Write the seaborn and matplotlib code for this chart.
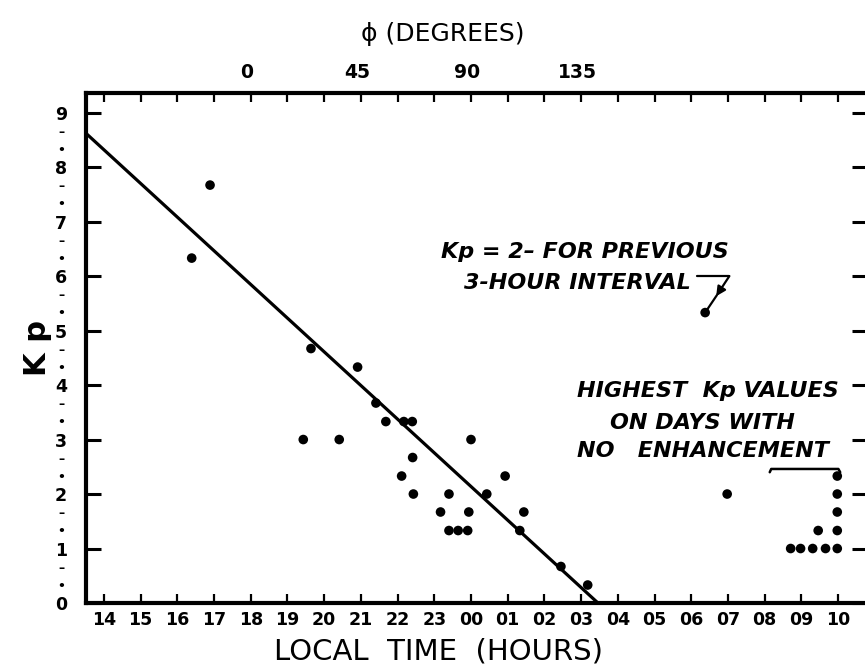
import matplotlib
matplotlib.use("Agg")
import matplotlib.pyplot as plt
import seaborn as sns
import pandas as pd

# ---------------- data (local time in hours, 24+ = after midnight) ----------------
storm_hours = [16.39, 16.89, 19.43, 19.64, 20.41, 20.91, 21.41, 21.68, 22.11, 22.17,
               22.40, 22.41, 22.43, 23.17, 23.40, 23.40, 23.65, 23.91, 23.94, 24.00,
               24.43, 24.93, 25.33, 25.44, 26.45, 27.18, 30.98]
storm_kp = [6.33, 7.67, 3.00, 4.67, 3.00, 4.33, 3.67, 3.33, 2.33, 3.33,
            3.33, 2.67, 2.00, 1.67, 2.00, 1.33, 1.33, 1.33, 1.67, 3.00,
            2.00, 2.33, 1.33, 1.67, 0.67, 0.33, 2.00]
prev_hours = [30.38]
prev_kp = [5.33]
quiet_hours = [32.71, 32.98, 33.31, 33.66, 33.98, 33.46, 33.98, 33.98, 33.98, 33.98]
quiet_kp = [1.00, 1.00, 1.00, 1.00, 1.00, 1.33, 1.33, 1.67, 2.00, 2.33]
fit_hours = [13.51, 27.46]
fit_kp = [8.62, 0.00]

hour_ticks = list(range(14, 35))
hour_labels = ["14", "15", "16", "17", "18", "19", "20", "21", "22", "23",
               "00", "01", "02", "03", "04", "05", "06", "07", "08", "09", "10"]
phi_ticks = [0, 45, 90, 135]
phi_labels = ["0", "45", "90", "135"]
kp_ticks = list(range(0, 10))
kp_labels = [str(k) for k in kp_ticks]
kp_minor = [k + f for k in range(0, 9) for f in (1 / 3, 2 / 3)]
kp_minor_labels = [lab for k in range(0, 9) for lab in ("•", "–")]

# ---------------- figure ----------------
sns.set_theme(style="ticks")
plt.rcParams['font.family'] = ['DejaVu Sans']
for key in ("text.color", "axes.labelcolor", "xtick.color", "ytick.color"):
    plt.rcParams[key] = "black"

W, H = 865, 668
fig = plt.figure(figsize=(W / 100, H / 100), dpi=100)
fig.patch.set_facecolor("white")
ax = fig.add_axes([86 / W, (H - 603) / H, (867 - 86) / W, (603 - 93) / H])
ax.set_facecolor("white")

pts = pd.DataFrame({"hour": storm_hours + prev_hours + quiet_hours,
                    "kp": storm_kp + prev_kp + quiet_kp})
fit = pd.DataFrame({"hour": fit_hours, "kp": fit_kp})

sns.lineplot(data=fit, x="hour", y="kp", ax=ax, color="black", lw=2.3, sort=False)
sns.scatterplot(data=pts, x="hour", y="kp", ax=ax, color="black", s=48,
                edgecolor="none", zorder=5)

ax.set_xlim(13.51, 34.79)
ax.set_ylim(0, 9.36)

for sp in ax.spines.values():
    sp.set_linewidth(3)
    sp.set_color("black")

ax.set_xticks(hour_ticks, hour_labels)
ax.tick_params(axis="x", which="major", direction="in", length=6.5, width=1.6,
               top=True, bottom=True, labelsize=12.5, pad=6)
for lbl in ax.get_xticklabels():
    lbl.set_fontweight("bold")

ax.set_yticks(kp_ticks, kp_labels)
ax.set_yticks(kp_minor, kp_minor_labels, minor=True)
ax.tick_params(axis="y", which="major", direction="in", length=11, width=2.2,
               left=True, right=True, labelsize=12.5, pad=18)
ax.tick_params(axis="y", which="minor", length=0, labelsize=9, pad=18)
for lbl in ax.get_yticklabels() + ax.get_yticklabels(minor=True):
    lbl.set_fontweight("bold")
    lbl.set_horizontalalignment("center")

secax = ax.secondary_xaxis("top", functions=(lambda h: (h - 17.89) * 15,
                                             lambda p: p / 15 + 17.89))
secax.set_xticks(phi_ticks, phi_labels)
secax.tick_params(length=0, pad=8, labelsize=13.5)
for lbl in secax.get_xticklabels():
    lbl.set_fontweight("bold")
for sp in secax.spines.values():
    sp.set_visible(False)

ax.set_xlabel("LOCAL  TIME  (HOURS)", fontsize=21)
ax.xaxis.set_label_coords(0.451, -0.095)
ax.xaxis.label.set_verticalalignment("center")
ax.set_ylabel("K p", fontsize=22, fontweight="bold")
ax.yaxis.set_label_coords(-0.062, 0.5)
ax.yaxis.label.set_verticalalignment("center")

fig.text(443 / W, 1 - 34 / H, "ϕ (DEGREES)", fontsize=18, ha="center", va="center")

# annotations (pixel positions converted to figure fractions)
def fx(x):
    return x / W

def fy(y):
    return 1 - y / H

ital = dict(fontsize=16, fontstyle="italic", fontweight="bold", va="baseline")
fig.text(fx(729), fy(258), "Kp = 2– FOR PREVIOUS", ha="right", **ital)
fig.text(fx(691), fy(289), "3-HOUR INTERVAL", ha="right", **ital)
fig.text(fx(577), fy(397), "HIGHEST  Kp VALUES", ha="left", **ital)
fig.text(fx(610), fy(429), "ON DAYS WITH", ha="left", **ital)
fig.text(fx(577), fy(457), "NO   ENHANCEMENT", ha="left", **ital)

ax.plot([30.17, 31.04], [6.0, 6.0], color="black", lw=1.6)
ax.annotate("", xy=(30.68, 5.63), xytext=(31.04, 6.0),
            arrowprops=dict(arrowstyle="-|>", color="black", lw=1.6,
                            mutation_scale=14, shrinkA=0, shrinkB=0))
ax.plot([30.70, 30.43], [5.65, 5.38], color="black", lw=1.6)
ax.plot([32.14, 32.18, 34.01, 34.06], [2.40, 2.46, 2.46, 2.40], color="black", lw=1.8)

fig.savefig("out.png", dpi=100, facecolor="white")
